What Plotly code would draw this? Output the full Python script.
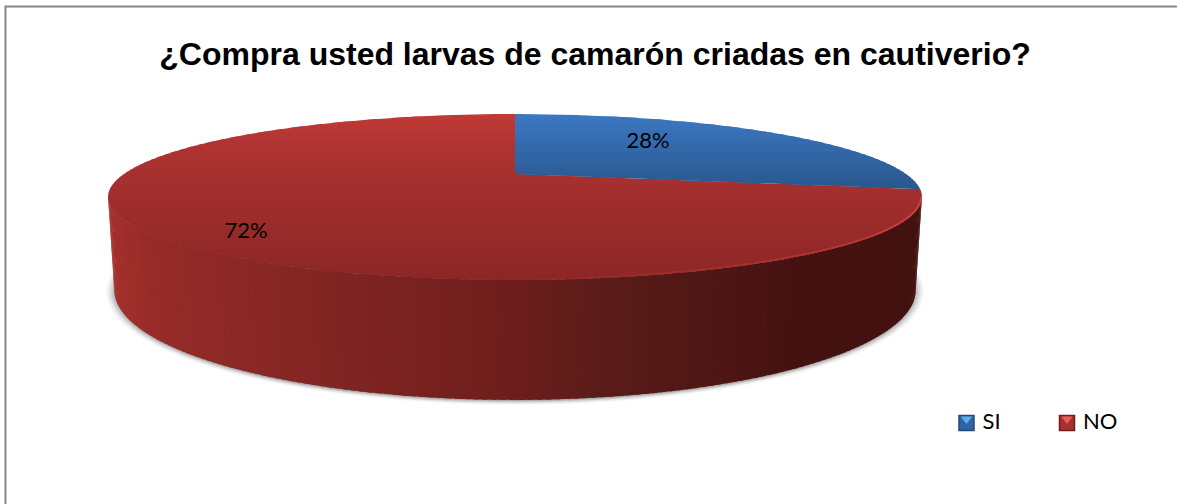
import math
import plotly.graph_objects as go

# Survey answers
categories = ["SI", "NO"]
shares = [28, 72]
title_text = "¿Compra usted larvas de camarón criadas en cautiverio?"

# Perspective disc geometry
CX, APEX_Y = 515.0, 174.0
TILT = 0.277
TOP_A, TOP_B = 391.0, 76.6
BASE_A, BASE_B, BASE_APEX_Y = 385.0, 101.5, 259.5

TOP_SHADES = {
    "SI": [(114, (60, 120, 194)), (187, (41, 88, 143))],
    "NO": [(114, (193, 58, 54)), (150, (174, 51, 49)), (200, (160, 46, 45)), (280, (139, 39, 37))],
}
WALL_SHADES = [(108, (165, 48, 44)), (150, (150, 43, 40)), (300, (132, 38, 36)), (500, (111, 30, 28)),
               (600, (90, 28, 25)), (800, (69, 18, 17)), (922, (66, 18, 16))]

# Legend key placement and colours
KEY_X = [966.5, 1067]
KEY_Y = 423
KEY_FILL = ["#2F64A5", "#A5302D"]
KEY_EDGE = ["#23497A", "#6E1F1D"]
KEY_GLOW = ["#62ACEC", "#EA5C57"]


def lerp(stops, v):
    if v <= stops[0][0]:
        return stops[0][1]
    for (a, ca), (b, cb) in zip(stops, stops[1:]):
        if v <= b:
            t = (v - a) / (b - a)
            return tuple(ca[i] + (cb[i] - ca[i]) * t for i in range(3))
    return stops[-1][1]


def css(c):
    return "rgb(%d,%d,%d)" % tuple(round(x) for x in c)


def rim(theta, a=TOP_A, b=TOP_B, apex=APEX_Y):
    w = 1 + TILT * math.cos(theta)
    return CX + a * math.sin(theta) / w, apex - b * math.cos(theta) / w


def clip_band(poly, y0, y1):
    def clip(pts, keep, cross):
        out = []
        for i, p in enumerate(pts):
            q = pts[(i + 1) % len(pts)]
            if keep(p):
                out.append(p)
            if keep(p) != keep(q):
                t = (cross - p[1]) / (q[1] - p[1])
                out.append((p[0] + (q[0] - p[0]) * t, cross))
        return out
    pts = clip(poly, lambda p: p[1] >= y0, y0)
    return clip(pts, lambda p: p[1] <= y1, y1) if pts else []


def filled(xs, ys, color):
    return go.Scatter(x=xs, y=ys, mode="lines", fill="toself", fillcolor=color,
                      line=dict(width=0), hoverinfo="skip", showlegend=False)


fig = go.Figure()

# Soft drop shadow beneath the disc
for grow, alpha in [(8, 0.05), (6, 0.08), (4, 0.12), (2, 0.18), (0, 0.25)]:
    pts = [rim(2 * math.pi * i / 240, BASE_A + grow, BASE_B + grow * 0.35, BASE_APEX_Y + 1)
           for i in range(240)]
    fig.add_trace(filled([p[0] for p in pts], [p[1] for p in pts],
                         "rgba(90,90,90,%.2f)" % alpha))

# Side wall, shaded from left to right; each strip runs under its neighbour to hide seams
start, stop = math.acos(-TILT), 2 * math.pi - math.acos(-TILT)
N_WALL = 150
for i in range(N_WALL):
    t0 = start + (stop - start) * i / N_WALL
    t1 = start + (stop - start) * (i + 1.6) / N_WALL
    t1 = min(t1, stop)
    a, b, c, d = rim(t0), rim(t1), rim(t1, BASE_A, BASE_B, BASE_APEX_Y), rim(t0, BASE_A, BASE_B, BASE_APEX_Y)
    fig.add_trace(filled([a[0], b[0], c[0], d[0], a[0]], [a[1], b[1], c[1], d[1], a[1]],
                         css(lerp(WALL_SHADES, (a[0] + b[0]) / 2))))

# Top face: one polygon per slice, cut into overlapping horizontal bands for the shading
total = sum(shares)
angles = {}
cum = 0
for name, share in zip(categories, shares):
    angles[name] = (2 * math.pi * cum / total, 2 * math.pi * (cum + share) / total)
    cum += share

for name in ["NO", "SI"]:
    t0, t1 = angles[name]
    steps = max(12, int((t1 - t0) * 60))
    poly = [(CX, APEX_Y)] + [rim(t0 + (t1 - t0) * i / steps) for i in range(steps + 1)]
    ymin, ymax = min(p[1] for p in poly), max(p[1] for p in poly)
    y = ymin
    while y < ymax:
        band = clip_band(poly, y, y + 4.0)
        if band:
            fig.add_trace(filled([p[0] for p in band] + [band[0][0]],
                                 [p[1] for p in band] + [band[0][1]],
                                 css(lerp(TOP_SHADES[name], y + 1.25))))
        y += 2.5

# Bevel highlight along the front edge, fading towards the right
N_BEVEL = 60
for i in range(N_BEVEL):
    t0 = start + (stop - start) * i / N_BEVEL
    t1 = start + (stop - start) * (i + 1) / N_BEVEL
    a, b = rim(t0, TOP_A - 1, TOP_B - 0.8), rim(t1, TOP_A - 1, TOP_B - 0.8)
    mix = max(0.0, 1 - i / (N_BEVEL * 0.5))
    base = lerp(TOP_SHADES["NO"], (a[1] + b[1]) / 2)
    col = tuple(base[k] + ((212, 62, 58)[k] - base[k]) * mix for k in range(3))
    fig.add_trace(go.Scatter(x=[a[0], b[0]], y=[a[1], b[1]], mode="lines",
                             line=dict(color=css(col), width=1.8),
                             hoverinfo="skip", showlegend=False))

# Percentage labels
fig.add_trace(go.Scatter(x=[648, 246], y=[142, 232], mode="text",
                         text=["%d%%" % v for v in shares],
                         textfont=dict(family="Lato", size=22, color="#000000"),
                         hoverinfo="skip", showlegend=False))

# Legend keys: bevelled squares with their category names
for name, x, fill, edge, glow in zip(categories, KEY_X, KEY_FILL, KEY_EDGE, KEY_GLOW):
    fig.add_trace(go.Scatter(x=[x], y=[KEY_Y], mode="markers+text", name=name,
                             text=[" " + name], textposition="middle right",
                             textfont=dict(family="Lato", size=22, color="#000000"),
                             marker=dict(symbol="square", size=15, color=fill,
                                         line=dict(color=edge, width=1.5)),
                             hoverinfo="skip", showlegend=False))
    fig.add_trace(go.Scatter(x=[x], y=[KEY_Y - 4], mode="markers",
                             marker=dict(symbol="triangle-down", size=10, color=glow,
                                         line=dict(width=0)),
                             hoverinfo="skip", showlegend=False))

fig.update_layout(
    width=1177, height=504, margin=dict(l=0, r=0, t=0, b=0, pad=0, autoexpand=False),
    paper_bgcolor="white", plot_bgcolor="white", showlegend=False,
    title=dict(text="<b>%s</b>" % title_text, x=595 / 1177, y=1 - 54 / 504,
               xanchor="center", yanchor="middle", automargin=False,
               font=dict(family="Liberation Sans", size=32, color="#000000")),
    xaxis=dict(range=[0, 1177], visible=False, fixedrange=True),
    yaxis=dict(range=[504, 0], visible=False, fixedrange=True),
    shapes=[dict(type="path", xref="x", yref="y",
                 path="M 5.5 504 L 5.5 6.5 L 1177 6.5",
                 line=dict(color="#868686", width=2), layer="below")],
)

fig.write_html("out.html")
